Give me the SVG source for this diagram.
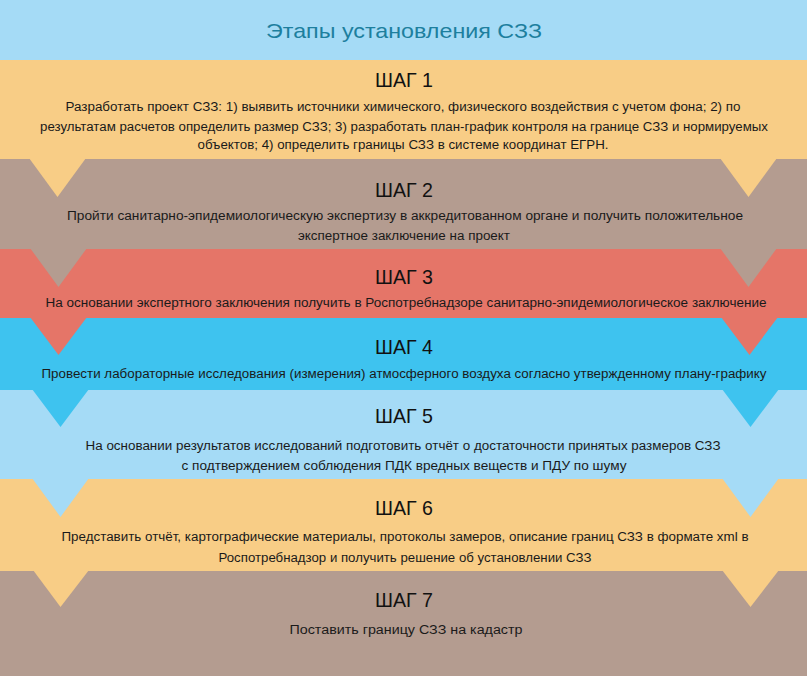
<svg xmlns="http://www.w3.org/2000/svg" width="807" height="676" viewBox="0 0 807 676">
<style>
.title{font-family:"Liberation Sans","DejaVu Sans",sans-serif;font-size:21px;fill:#1d7f9e;text-anchor:middle}
.step{font-family:"Liberation Sans","DejaVu Sans",sans-serif;font-size:21px;fill:#111;text-anchor:middle}
.txt{font-family:"Liberation Sans","DejaVu Sans",sans-serif;font-size:12.5px;fill:#1a1a1a;text-anchor:middle}
.sand{fill:#f8cd86}
.taupe{fill:#b49c90}
.coral{fill:#e57568}
.blue{fill:#3ec3ef}
.sky{fill:#a5dbf6}
</style>
<g id="header">
<rect x="0" y="0" width="807" height="60" class="sky"/>
<text class="title" x="404" y="38" textLength="276" lengthAdjust="spacingAndGlyphs">Этапы установления СЗЗ</text>
</g>
<g id="step1">
<rect x="0" y="60" width="807" height="99" class="sand"/>
<text class="step" x="404" y="87" textLength="58" lengthAdjust="spacingAndGlyphs">ШАГ 1</text>
<text class="txt" x="403" y="111" textLength="675" lengthAdjust="spacingAndGlyphs">Разработать проект СЗЗ: 1) выявить источники химического, физического воздействия с учетом фона; 2) по</text>
<text class="txt" x="404" y="131" textLength="728" lengthAdjust="spacingAndGlyphs">результатам расчетов определить размер СЗЗ; 3) разработать план-график контроля на границе СЗЗ и нормируемых</text>
<text class="txt" x="403" y="149" textLength="411" lengthAdjust="spacingAndGlyphs">объектов; 4) определить границы СЗЗ в системе координат ЕГРН.</text>
</g>
<g id="step2">
<rect x="0" y="159" width="807" height="90" class="taupe"/>
<text class="step" x="404" y="197" textLength="58" lengthAdjust="spacingAndGlyphs">ШАГ 2</text>
<text class="txt" x="405" y="220" textLength="676" lengthAdjust="spacingAndGlyphs">Пройти санитарно-эпидемиологическую экспертизу в аккредитованном органе и получить положительное</text>
<text class="txt" x="404" y="240" textLength="212" lengthAdjust="spacingAndGlyphs">экспертное заключение на проект</text>
</g>
<g id="step3">
<rect x="0" y="249" width="807" height="69" class="coral"/>
<text class="step" x="404" y="284" textLength="58" lengthAdjust="spacingAndGlyphs">ШАГ 3</text>
<text class="txt" x="406" y="307" textLength="721" lengthAdjust="spacingAndGlyphs">На основании экспертного заключения получить в Роспотребнадзоре санитарно-эпидемиологическое заключение</text>
</g>
<g id="step4">
<rect x="0" y="318" width="807" height="72" class="blue"/>
<text class="step" x="404" y="354" textLength="58" lengthAdjust="spacingAndGlyphs">ШАГ 4</text>
<text class="txt" x="404" y="378" textLength="725" lengthAdjust="spacingAndGlyphs">Провести лабораторные исследования (измерения) атмосферного воздуха согласно утвержденному плану-графику</text>
</g>
<g id="step5">
<rect x="0" y="390" width="807" height="89" class="sky"/>
<text class="step" x="404" y="423" textLength="58" lengthAdjust="spacingAndGlyphs">ШАГ 5</text>
<text class="txt" x="403" y="450" textLength="635" lengthAdjust="spacingAndGlyphs">На основании результатов исследований подготовить отчёт о достаточности принятых размеров СЗЗ</text>
<text class="txt" x="404" y="470" textLength="445" lengthAdjust="spacingAndGlyphs">с подтверждением соблюдения ПДК вредных веществ и ПДУ по шуму</text>
</g>
<g id="step6">
<rect x="0" y="479" width="807" height="92" class="sand"/>
<text class="step" x="404" y="515" textLength="58" lengthAdjust="spacingAndGlyphs">ШАГ 6</text>
<text class="txt" x="405" y="541" textLength="687" lengthAdjust="spacingAndGlyphs">Представить отчёт, картографические материалы, протоколы замеров, описание границ СЗЗ в формате xml в</text>
<text class="txt" x="405" y="562" textLength="373" lengthAdjust="spacingAndGlyphs">Роспотребнадзор и получить решение об установлении СЗЗ</text>
</g>
<g id="step7">
<rect x="0" y="571" width="807" height="105" class="taupe"/>
<text class="step" x="404" y="607" textLength="58" lengthAdjust="spacingAndGlyphs">ШАГ 7</text>
<text class="txt" x="406" y="634" textLength="233" lengthAdjust="spacingAndGlyphs">Поставить границу СЗЗ на кадастр</text>
</g>
<g id="connectors">
<polygon class="sand" points="29,158 86,158 57.5,197"/>
<polygon class="sand" points="720,158 777,158 748.5,197"/>
<polygon class="taupe" points="30,248 87,248 58.5,287"/>
<polygon class="taupe" points="720,248 777,248 748.5,287"/>
<polygon class="coral" points="30,317 87,317 58.5,355"/>
<polygon class="coral" points="721,317 778,317 749.5,355"/>
<polygon class="blue" points="32,389 89,389 60.5,427"/>
<polygon class="blue" points="722,389 779,389 750.5,427"/>
<polygon class="sky" points="32,478 89,478 60.5,517"/>
<polygon class="sky" points="722,478 779,478 750.5,517"/>
<polygon class="sand" points="33,570 89,570 60.5,607"/>
<polygon class="sand" points="722,570 779,570 750.5,607"/>
</g>
</svg>
